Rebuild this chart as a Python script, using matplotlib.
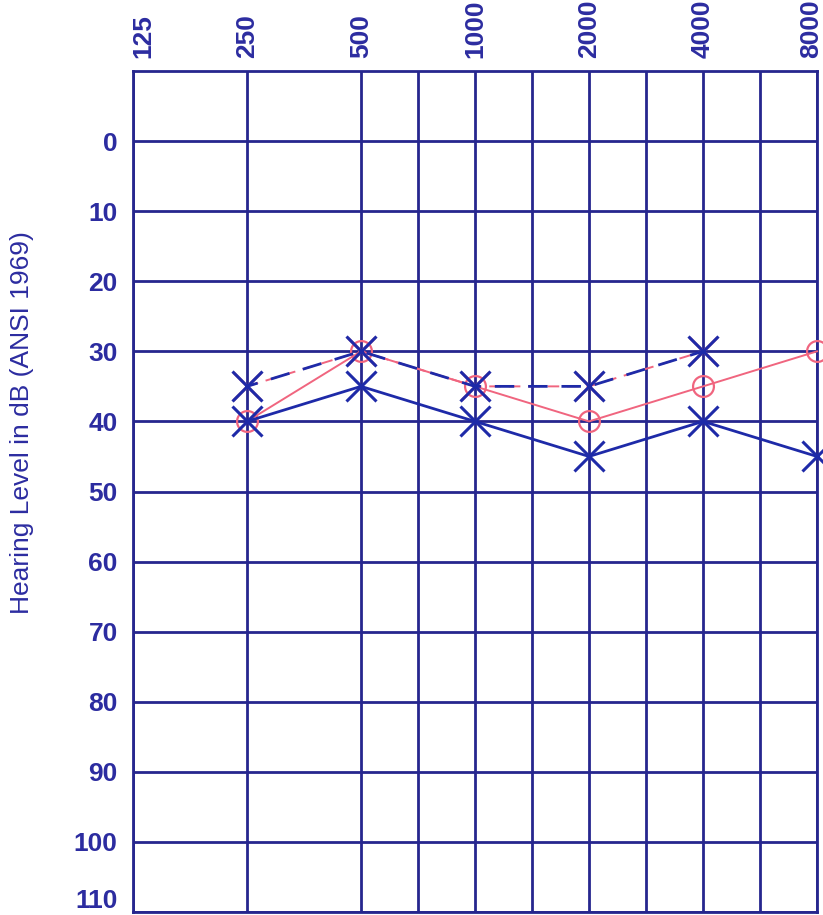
import numpy as np
import matplotlib
matplotlib.use("Agg")
import matplotlib.pyplot as plt
import matplotlib.transforms as mtransforms

# audiogram frequencies (Hz) and hearing levels (dB)
freqs = [125, 250, 500, 1000, 2000, 4000, 8000]
half_octaves = [750, 1500, 3000, 6000]

blue_solid_f = [250, 500, 1000, 2000, 4000, 8000]
blue_solid_db = [40, 35, 40, 45, 40, 45]

blue_dashed_f = [250, 500, 1000, 2000, 4000]
blue_dashed_db = [35, 30, 35, 35, 30]

red_circle_f = [250, 500, 1000, 2000, 4000, 8000]
red_circle_db = [40, 30, 35, 40, 35, 30]

red_x_f = [250, 500, 1000, 2000, 4000]
red_x_db = [35, 30, 35, 35, 30]

db_ticks = list(range(0, 111, 10))

grid_col = "#26268e"
text_col = "#2c2ca0"
blue = "#1e2aa8"
pink = "#f0657f"


def octave(f):
    # octave index; half-octave lines sit midway like on the printed form
    f = np.asarray(f, dtype=float)
    base = np.floor(np.log2(f / 125) + 1e-9)
    frac = np.where(np.isclose(f / (125 * 2 ** base), 1.5), 0.5, 0.0)
    return base + frac


def nudge(label, dx, dy):
    # shift a tick label by a few pixels
    label.set_transform(label.get_transform() +
                        mtransforms.ScaledTranslation(dx / 100, dy / 100, fig.dpi_scale_trans))


fig = plt.figure(figsize=(8.23, 9.15), dpi=100)
ax = fig.add_axes([133 / 823, 1 - 912 / 915, (817 - 133) / 823, (912 - 71) / 915])

ax.set_xlim(0, 6)
ax.set_ylim(110, -10)

for x in list(octave(freqs)) + list(octave(half_octaves)):
    ax.axvline(x, color=grid_col, lw=2.0, zorder=1)
for y in db_ticks:
    ax.axhline(y, color=grid_col, lw=2.0, zorder=1)
for s in ax.spines.values():
    s.set_color(grid_col)
    s.set_linewidth(2.0)

# pink (red) traces
ax.plot(octave(red_x_f), red_x_db, color=pink, lw=1.4, ls=(0, (6, 4)),
        marker="x", ms=20, mew=2.0, zorder=3, clip_on=False)
ax.plot(octave(red_circle_f), red_circle_db, color=pink, lw=1.4,
        marker="o", ms=15, mfc="none", mew=1.6, zorder=3, clip_on=False)

# blue traces
ax.plot(octave(blue_dashed_f), blue_dashed_db, color=blue, lw=2.0, ls=(3, (7, 5)),
        marker="x", ms=22, mew=2.2, zorder=4, clip_on=False)
ax.plot(octave(blue_solid_f), blue_solid_db, color=blue, lw=2.0,
        marker="x", ms=22, mew=2.2, zorder=4, clip_on=False)

ax.xaxis.tick_top()
ax.set_xticks(octave(freqs))
ax.set_xticklabels([str(f) for f in freqs], rotation=90, fontsize=19,
                   fontweight="bold", color=text_col, family="Liberation Sans")
ax.set_yticks(db_ticks)
ax.set_yticklabels([str(v) for v in db_ticks], fontsize=19,
                   fontweight="bold", color=text_col, family="Liberation Sans")
ax.tick_params(axis="x", length=0, pad=9)
ax.tick_params(axis="y", length=0, pad=11)

# edge labels are printed just inside the page
xl = ax.get_xticklabels()
nudge(xl[0], 10, 0)
nudge(xl[-1], -6, 0)
nudge(ax.get_yticklabels()[-1], 0, 13)

fig.text(22 / 823, 1 - 423 / 915, "Hearing Level in dB (ANSI 1969)", rotation=90,
         ha="center", va="center", fontsize=19, color=text_col,
         family="Liberation Sans")

fig.savefig("out.png", dpi=100, facecolor="white")
